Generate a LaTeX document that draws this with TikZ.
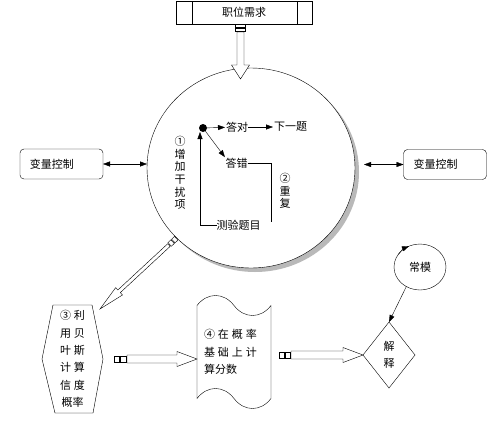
\documentclass[tikz,border=0pt]{standalone}
\usepackage{fontspec}
\newfontfamily\cjk{Noto Sans CJK SC}
\usetikzlibrary{positioning,calc,shapes.geometric,shapes.symbols,arrows.meta}
\pgfdeclarelayer{background}
\pgfsetlayers{background,main}
\tikzset{
  quizpic/.style={
    x=1pt, y=-1pt
    ,inner sep=0pt
    ,outer sep=0pt
    ,line width=.6pt
    ,font=\cjk\fontsize{11}{13}\selectfont
  }
  ,plainbox/.style={draw=black, fill=white}
  ,shadowfill/.style={fill=gray!55}
  ,ctrlbox/.style={plainbox, rounded corners=4pt
    ,minimum width=83pt, minimum height=30pt
    ,text width=63pt, align=left}
  ,headarrow/.style={-{Triangle[length=7pt,width=5pt]}}
  ,bothheads/.style={{Triangle[length=7pt,width=5pt]}-{Triangle[length=7pt,width=5pt]}}
  ,vtext/.style={align=center, font=\cjk\fontsize{11}{12.6}\selectfont}
  ,widetext/.style={font=\cjk\fontsize{11}{17.4}\selectfont}
}
% hollow block arrow: shaft, head, head length, tail width, tail length, from, to
\newcommand\hollowarrow[7]{
  \coordinate (ha-s) at #6;
  \coordinate (ha-t) at #7;
  \coordinate (ha-b) at ($(ha-t)!#3!(ha-s)$);
  \pgfmathsetlengthmacro\haB{1pt+#5}
  \pgfmathsetlengthmacro\haC{2pt+#5}
  \pgfmathsetlengthmacro\haD{2pt+2*#5}
  \coordinate (ha-q1) at ($(ha-s)!1pt!180:(ha-t)$);
  \coordinate (ha-q2) at ($(ha-s)!\haB!180:(ha-t)$);
  \coordinate (ha-q3) at ($(ha-s)!\haC!180:(ha-t)$);
  \coordinate (ha-q4) at ($(ha-s)!\haD!180:(ha-t)$);
  \draw[fill=white] ($(ha-q1)!#4!90:(ha-t)$) -- ($(ha-q2)!#4!90:(ha-t)$)
    -- ($(ha-q2)!#4!-90:(ha-t)$) -- ($(ha-q1)!#4!-90:(ha-t)$) -- cycle
    ($(ha-q3)!#4!90:(ha-t)$) -- ($(ha-q4)!#4!90:(ha-t)$)
    -- ($(ha-q4)!#4!-90:(ha-t)$) -- ($(ha-q3)!#4!-90:(ha-t)$) -- cycle;
  \draw[fill=white] ($(ha-s)!#1!90:(ha-t)$) -- ($(ha-b)!#1!90:(ha-t)$)
    -- ($(ha-b)!#2!90:(ha-t)$) -- (ha-t) -- ($(ha-b)!#2!-90:(ha-t)$)
    -- ($(ha-b)!#1!-90:(ha-t)$) -- ($(ha-s)!#1!-90:(ha-t)$) -- cycle;
}

\begin{document}
\begin{tikzpicture}[quizpic]
  \begin{pgfonlayer}{background}
    \fill[white] (0,0) rectangle (488,432);
  \end{pgfonlayer}
  \useasboundingbox (0,0) rectangle (488,432);
  % the test circle
  \node[ellipse, plainbox, minimum width=208pt, minimum height=200pt] (test) at (251,168) {};
  \begin{pgfonlayer}{background}
    \fill[shadowfill] ($(test.center)+(4,4)$) ellipse [x radius=104pt, y radius=100pt];
  \end{pgfonlayer}
  \node[circle, fill=black, minimum size=8pt] (dot) at (203,128) {};
  \node (right) at (237,127) {答对};
  \node[right=26pt of right] (next) {下一题};
  \node (wrong) at (236.5,163) {答错};
  \node (quiz) at (238.5,225) {测验题目};
  \node[vtext] (distract) at (180,173) {①\\增\\加\\干\\扰\\项};
  \node[vtext] (repeat) at (285,191) {②\\重\\复};
  \coordinate (repend) at (271,222);
  \draw[headarrow, shorten >=1pt] (dot) -- (right);
  \draw[headarrow, shorten >=1pt] (right) -- (next);
  \draw[headarrow, shorten >=1pt] (dot) -- (wrong.north west);
  \draw (wrong.east) -| (repend);
  \draw[headarrow] (quiz.west) -| ($(dot.south)+(-3,0)$);
  % demand on top
  \node[plainbox, minimum width=136pt, minimum height=23pt] (need) at (244,12.5) {职位需求};
  \draw ($(need.north west)+(16,0)$) -- ($(need.south west)+(16,0)$)
    ($(need.north east)+(-15,0)$) -- ($(need.south east)+(-15,0)$);
  \hollowarrow{3.5pt}{9pt}{14pt}{5pt}{3pt}{($(need.south)+(-3.5,8)$)}{($(test.north)+(-10.5,11)$)}
  % control boxes
  \node[ctrlbox] (ctrlL) at (61.5,164) {变量控制};
  \node[ctrlbox] (ctrlR) at (445,164.5) {变量控制};
  \draw[bothheads] (ctrlL.east) -- (ctrlL.east -| test.west);
  \draw[bothheads] (ctrlR.west) -- ($(ctrlR.west -| test.east)+(9,0)$);
  % bayes step
  \node[widetext, align=center, minimum width=61pt, minimum height=108pt] (bayes) at (72.5,359)
    {③\hspace{3pt}利\\用\hspace{3pt}贝\\叶\hspace{3pt}斯\\计\hspace{3pt}算\\信\hspace{3pt}度\\概率};
  \begin{pgfonlayer}{background}
    \foreach \dx/\dy/\sty in {6/7/shadowfill, 0/0/plainbox}{
      \path[\sty, shift={(\dx,\dy)}] ($(bayes.north west)+(11,0)$) -- ($(bayes.north east)+(-11,0)$)
        -- (bayes.east) -- ($(bayes.south east)+(-10,0)$) -- ($(bayes.south west)+(13,0)$)
        -- (bayes.west) -- cycle;
    }
  \end{pgfonlayer}
  \hollowarrow{1.8pt}{5pt}{26pt}{2.5pt}{4pt}{($(test.225)+(-10,5)$)}{($(bayes.north east)+(-3,4)$)}
  % score step
  \node[tape, plainbox, tape bend top=out and in, tape bend bottom=out and in
    ,tape bend height=20pt, minimum width=74pt, minimum height=113pt
    ,text width=60pt, align=left, widetext] (doc) at (234,352)
    {④\hspace{3pt}在\hspace{3pt}概\hspace{3pt}率\\基\hspace{3pt}础\hspace{3pt}上\hspace{3pt}计\\算分数};
  \hollowarrow{4pt}{7.5pt}{20pt}{3pt}{5.5pt}{($(bayes.east)+(24,0)$)}{(doc.west |- bayes.east)}
  % explanation
  \node[diamond, plainbox, minimum width=52pt, minimum height=66pt, align=center, widetext] (explain) at (389,355) {解\\释};
  \node[ellipse, plainbox, minimum width=52pt, minimum height=46pt] (norm) at (420,267) {常模};
  \hollowarrow{4pt}{7.5pt}{20pt}{3pt}{5pt}{($(doc.east |- explain.west)+(20,0)$)}{(explain.west)}
  \draw[headarrow] (norm.235) -- (explain.north);
  \draw[headarrow] (norm.150) to[bend left=15] (norm.118);
\end{tikzpicture}
\end{document}
